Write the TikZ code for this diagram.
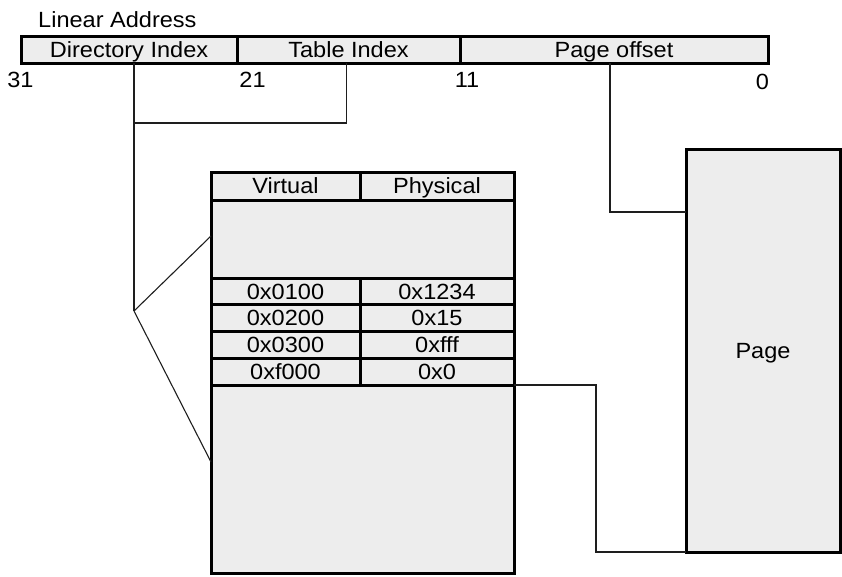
\documentclass[tikz,border=0pt]{standalone}
\usepackage{fontspec}
\setmainfont{Liberation Sans}[FakeStretch=1.07]
\definecolor{cellfill}{RGB}{237,237,237}
\definecolor{connclr}{RGB}{30,30,30}
\begin{document}
\begin{tikzpicture}[x=1pt,y=-1pt,
  font=\fontsize{22}{26}\selectfont,
  cell/.style={draw=black, line width=3pt, fill=cellfill, anchor=north west,
    inner sep=0pt, outer sep=0pt, text height=15.5pt, text depth=0pt},
  conn/.style={draw=connclr, line width=1.1pt},
  lbl/.style={anchor=base, inner sep=0pt}]
\useasboundingbox (0,0) rectangle (842,576);
% linear address bar
\node[lbl, anchor=base west] (title) at (38,27) {Linear Address};
\node[cell, minimum width=216pt, minimum height=27pt] (dir) at (21,36) {Directory Index};
\node[cell, minimum width=223pt, minimum height=27pt] (tab) at (237,36) {Table Index};
\node[cell, minimum width=308pt, minimum height=27pt] (off) at (460,36) {Page offset};
\node[lbl] (b31) at (20.5,87) {31};
\node[lbl] (b21) at (252.5,87) {21};
\node[lbl] (b11) at (467,87) {11};
\node[lbl] (b0) at (762.5,89) {0};
% table
\node[cell, minimum width=149pt, minimum height=28pt] (vh) at (211,172) {Virtual};
\node[cell, minimum width=154pt, minimum height=28pt] (ph) at (360,172) {Physical};
\node[cell, minimum width=303pt, minimum height=78pt] (upper) at (211,200) {};
\node[cell, minimum width=149pt, minimum height=26.75pt] (v1) at (211,278) {0x0100};
\node[cell, minimum width=154pt, minimum height=26.75pt] (p1) at (360,278) {0x1234};
\node[cell, minimum width=149pt, minimum height=26.75pt] (v2) at (211,304.75) {0x0200};
\node[cell, minimum width=154pt, minimum height=26.75pt] (p2) at (360,304.75) {0x15};
\node[cell, minimum width=149pt, minimum height=26.75pt] (v3) at (211,331.5) {0x0300};
\node[cell, minimum width=154pt, minimum height=26.75pt] (p3) at (360,331.5) {0xfff};
\node[cell, minimum width=149pt, minimum height=26.75pt] (v4) at (211,358.25) {0xf000};
\node[cell, minimum width=154pt, minimum height=26.75pt] (p4) at (360,358.25) {0x0};
\node[cell, minimum width=303pt, minimum height=188pt] (lower) at (211,385) {};
% page
\node[cell, minimum width=154pt, minimum height=403pt] (page) at (686,149) {Page};
% connectors
\coordinate (j) at (134,311);
\coordinate (tb) at (134,123);
\draw[conn] ([xshift=5pt]dir.south) -- (j);
\draw[conn] ([xshift=-2pt]tab.south) |- (tb);
\draw[conn] (j) -- ([yshift=3pt]upper.west);
\draw[conn] (j) -- ([yshift=17pt]lower.west);
\draw[conn] ([xshift=-4pt]off.south) |- ([yshift=-63pt]page.north west);
\draw[conn] (p4.south east) -| ([xshift=-90pt]page.south west) -- (page.south west);
\end{tikzpicture}
\end{document}
